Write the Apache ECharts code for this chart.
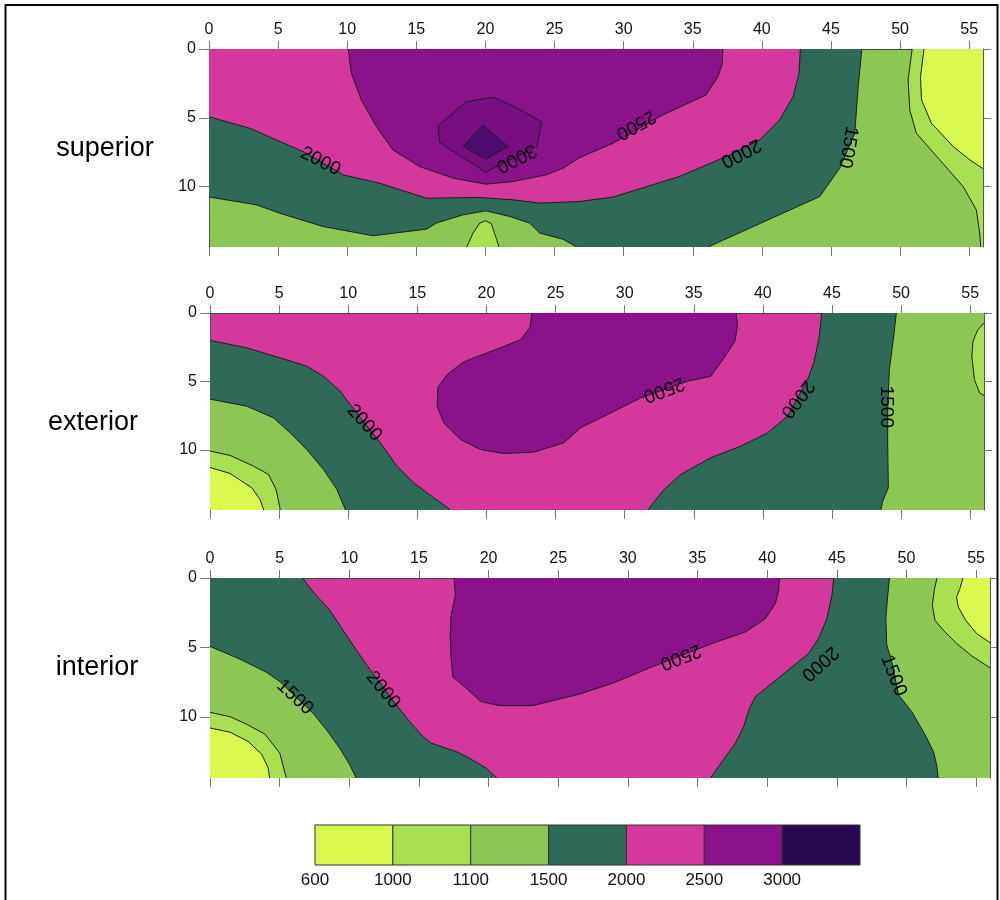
<!DOCTYPE html>
<html><head><meta charset="utf-8">
<script src="https://cdn.jsdelivr.net/npm/echarts@6/dist/echarts.min.js"></script>
<style>html,body{margin:0;padding:0;background:#fff}#c{width:1000px;height:900px}</style>
</head><body><div id="c"></div>
<script>
// ---------- axes / classes ----------
const xTickValues = [0,5,10,15,20,25,30,35,40,45,50,55];
const yTickValues = [0,5,10];
const X_MAX = 56, Y_MAX = 14.4;
const levelLabels = ['600','1000','1100','1500','2000','2500','3000'];
const panelNames = ['superior','exterior','interior'];
const C600='#d8fa4e', C1000='#a8e052', C1100='#8cc653', C1500='#2e6a57', C2000='#d5389d', C2500='#8b128b', C3000='#2a0851';
const classColors = [C600,C1000,C1100,C1500,C2000,C2500,C3000];
const CHEX = '#790e80', CDIA = '#4d0b6f';

// ---------- superior: contour regions [x, depth] ----------
const sup_ge1500 = [[0,0],[47.28,0],[46.97,2.74],[46.72,6.13],[45.63,8.67],[44.19,10.73],[35.0,14.4],[27.5,14.4],[25.6,13.83],[23.93,13.39],[23.2,12.66],[21.76,12.18],[20.02,11.77],[18.38,12.06],[16.45,12.66],[15.73,13.10],[11.87,13.58],[8.25,12.91],[5.11,11.94],[3.42,11.33],[0,10.68]];
const sup_ge2000 = [[0,0],[42.81,0],[42.69,1.77],[42.26,3.46],[41.29,5.16],[39.85,6.61],[37.43,7.82],[34.05,9.27],[29.23,10.77],[26.82,11.09],[23.93,11.21],[22.0,10.97],[19.59,10.80],[15.73,10.85],[12.35,9.76],[9.70,9.15],[6.9,7.5],[4.87,6.61],[2.94,5.76],[0,4.79]];
const sup_ge2500 = [[10.01,0],[10.3,1.77],[11.02,3.70],[12.11,5.64],[13.31,7.34],[15.24,8.55],[17.66,9.39],[20.02,9.83],[22.0,9.64],[24.41,9.15],[25.6,8.67],[26.82,7.9],[29.23,6.85],[32.85,4.79],[35.96,3.34],[36.83,2.0],[37.15,1.04],[37.19,0]];
const sup_hex = [[16.57,5.59],[18.62,3.83],[20.55,3.51],[22.0,4.14],[24.05,5.28],[23.73,7.09],[22.0,7.94],[20.02,8.96],[18.62,8.06],[16.69,6.80]];
const sup_core = [[19.83,5.52],[21.64,7.09],[20.02,8.01],[18.38,7.09]];
const sup_lt1100a = [[50.94,0],[50.58,2.25],[50.7,4.43],[51.18,6.13],[52.87,8.06],[54.56,10.0],[55.52,11.7],[55.76,13.39],[55.88,14.4],[56,14.4],[56,0]];
const sup_lt1100b = [[18.43,14.4],[19.1,13.39],[19.59,12.66],[20.02,12.49],[20.43,12.71],[21.15,14.4]];
const sup_lt1000 = [[51.79,0],[51.48,2.01],[51.55,3.70],[52.27,5.40],[53.84,7.09],[55.04,8.06],[56,9.03],[56,0]];
const sup_labels = [[8.06,8.18,'2000',-27],[22.24,7.94,'3000',207],[30.9,5.5,'2500',209],[38.5,7.55,'2000',207],[46.24,7.14,'1500',-100]];

// ---------- exterior ----------
const ext_ge2500 = [[23.38,0],[23.14,1.09],[22.46,1.95],[21.01,2.55],[19.08,3.28],[18.24,3.65],[17.15,4.5],[16.47,5.47],[16.43,6.81],[16.91,8.03],[18.12,9.25],[19.57,9.98],[21.26,10.27],[23.43,10.17],[25.6,9.49],[26.81,8.39],[29.23,7.18],[31.16,6.2],[34.54,4.99],[36.23,4.62],[37.2,3.28],[37.97,2.07],[38.16,0.97],[38.04,0]];
const ext_lt2000a = [[0,1.90],[2.66,2.55],[5.07,3.28],[7.0,3.89],[8.21,4.62],[9.42,5.72],[10.14,6.69],[12.32,9.49],[13.53,11.19],[14.73,12.41],[16.18,13.5],[18.12,14.4],[0,14.4]];
const ext_lt2000b = [[44.32,0],[44.08,1.7],[43.72,3.53],[43.24,4.87],[41.79,7.54],[40.34,8.76],[38.41,9.73],[36.23,10.58],[34.06,11.8],[32.85,12.9],[31.28,14.4],[56,14.4],[56,0]];
const ext_lt1500a = [[0,6.2],[2.66,6.81],[4.59,7.66],[5.8,8.76],[7.0,9.98],[8.21,11.44],[9.18,12.9],[10.02,14.4],[0,14.4]];
const ext_lt1500b = [[49.71,0],[49.47,1.7],[49.15,4.14],[49.03,7.06],[49.03,9.49],[49.08,12.77],[48.67,13.75],[48.43,14.4],[56,14.4],[56,0]];
const ext_lt1100a = [[0,9.98],[1.45,10.41],[3.14,11.19],[4.23,11.8],[4.78,12.9],[5.19,14.4],[0,14.4]];
const ext_lt1100b = [[56,0.2],[55.56,1.22],[55.2,2.07],[55.12,3.16],[55.31,4.87],[55.68,5.84],[56,6.33]];
const ext_lt1000 = [[0,11.14],[1.45,11.73],[3.02,12.77],[3.62,13.63],[4.06,14.4],[0,14.4]];
const ext_labels = [[11.16,8.03,'2000',-48],[32.85,5.6,'2500',200],[42.5,6.28,'2000',232],[48.96,6.86,'1500',-90]];

// ---------- interior ----------
const int_ge2500 = [[17.48,0],[17.62,1.24],[17.31,2.68],[17.24,4.11],[17.31,5.79],[17.43,7.11],[18.39,7.94],[19.46,8.9],[20.77,9.19],[23.16,9.19],[25.31,8.66],[26.5,8.37],[28.89,7.58],[31.76,6.39],[36.06,4.71],[38.45,3.88],[39.88,2.92],[40.59,1.84],[40.83,0.89],[40.9,0]];
const int_lt2000a = [[0,0],[6.26,0],[7.4,1.0],[8.6,2.32],[9.55,3.76],[10.51,5.19],[11.34,6.39],[13.37,9.14],[14.33,10.33],[15.28,11.41],[15.88,11.89],[17.67,12.49],[18.62,12.97],[19.82,13.68],[21.13,14.4],[0,14.4]];
const int_lt2000b = [[44.84,0],[44.65,1.24],[44.29,2.92],[43.7,4.35],[42.98,5.43],[40.35,7.58],[39.16,8.54],[38.73,9.38],[38.32,10.69],[37.73,11.89],[36.77,13.21],[35.58,14.4],[56,14.4],[56,0]];
const int_lt1500a = [[0,4.71],[2.15,5.84],[4.06,6.79],[5.01,7.46],[7.4,9.74],[8.36,10.93],[9.31,12.25],[10.03,13.44],[10.75,14.4],[0,14.4]];
const int_lt1500b = [[48.83,0],[48.66,1.24],[48.52,2.92],[48.59,4.83],[48.95,6.03],[49.43,8.42],[50.38,9.62],[51.34,11.29],[51.94,12.49],[52.17,13.44],[52.34,14.4],[56,14.4],[56,0]];
const int_lt1100a = [[0,9.57],[1.43,9.98],[2.63,10.53],[3.94,11.24],[5.01,12.61],[5.61,14.4],[0,14.4]];
const int_lt1100b = [[52.29,0],[52.0,0.89],[51.86,1.96],[52.05,3.04],[52.65,3.76],[53.6,4.71],[54.68,5.6],[56,6.8],[56,0]];
const int_lt1000a = [[0,10.69],[1.43,11.1],[2.75,11.77],[3.7,12.68],[4.18,13.68],[4.35,14.4],[0,14.4]];
const int_lt1000b = [[54.2,0],[53.84,0.77],[53.6,1.36],[53.72,2.08],[54.25,3.04],[55.04,4.0],[56,5.0],[56,0]];
const int_labels = [[12.42,8.06,'2000',-50],[6.09,8.59,'1500',-43],[33.79,5.67,'2500',201],[43.79,6.15,'2000',222],[49.07,7.03,'1500',-69]];

// ---------- build ----------
const FONT = "'Liberation Sans', Arial, sans-serif";
const panels = [
  {grid:{left:209,top:49,width:774,height:198}, base:C1100,
   layers:[[sup_ge1500,C1500],[sup_ge2000,C2000],[sup_ge2500,C2500],[sup_hex,CHEX],[sup_core,CDIA],[sup_lt1100a,C1000],[sup_lt1100b,C1000],[sup_lt1000,C600]],
   labels:sup_labels, name:[105,149]},
  {grid:{left:210,top:313,width:774,height:197}, base:C2000,
   layers:[[ext_ge2500,C2500],[ext_lt2000a,C1500],[ext_lt2000b,C1500],[ext_lt1500a,C1100],[ext_lt1500b,C1100],[ext_lt1100a,C1000],[ext_lt1100b,C1000],[ext_lt1000,C600]],
   labels:ext_labels, name:[93,423]},
  {grid:{left:210,top:578,width:780,height:200}, base:C2000,
   layers:[[int_ge2500,C2500],[int_lt2000a,C1500],[int_lt2000b,C1500],[int_lt1500a,C1100],[int_lt1500b,C1100],[int_lt1100a,C1000],[int_lt1100b,C1000],[int_lt1000a,C600],[int_lt1000b,C600]],
   labels:int_labels, name:[97,668]}
];

function expand(p){
  let x=p[0], y=p[1]; const e=0.5;
  if (x<=0) x=-e; else if (x>=X_MAX) x=X_MAX+e;
  if (y<=0) y=-e; else if (y>=Y_MAX) y=Y_MAX+e;
  return [x,y];
}

const grids=[], xAxes=[], yAxes=[], series=[], graphics=[];
panels.forEach((P,p)=>{
  grids.push(Object.assign({show:true, backgroundColor:P.base, borderWidth:0}, P.grid));
  xAxes.push({gridIndex:p, type:'value', position:'top', min:0, max:X_MAX, interval:5,
    axisLine:{show:true, onZero:false, lineStyle:{color:'#444', width:1}},
    axisTick:{show:true, inside:false, length:8, customValues:xTickValues, lineStyle:{color:'#777'}},
    axisLabel:{show:true, margin:11, fontSize:16, fontFamily:FONT, color:'#111', customValues:xTickValues},
    splitLine:{show:false}});
  xAxes.push({gridIndex:p, type:'value', position:'bottom', min:0, max:X_MAX, interval:5,
    axisLine:{show:false, onZero:false},
    axisTick:{show:true, inside:false, length:9, customValues:xTickValues, lineStyle:{color:'#777'}},
    axisLabel:{show:false}, splitLine:{show:false}});
  yAxes.push({gridIndex:p, type:'value', position:'left', inverse:true, min:0, max:Y_MAX, interval:5,
    axisLine:{show:true, onZero:false, lineStyle:{color:'#555', width:1}},
    axisTick:{show:true, inside:false, length:10, customValues:yTickValues, lineStyle:{color:'#777'}},
    axisLabel:{show:true, margin:13, fontSize:16, fontFamily:FONT, color:'#111', customValues:yTickValues},
    splitLine:{show:false}});
  yAxes.push({gridIndex:p, type:'value', position:'right', inverse:true, min:0, max:Y_MAX, interval:5,
    axisLine:{show:true, onZero:false, lineStyle:{color:'#555', width:1}},
    axisTick:{show:true, inside:false, length:8, customValues:yTickValues, lineStyle:{color:'#777'}},
    axisLabel:{show:false}, splitLine:{show:false}});
  P.layers.forEach(([pts,color])=>{
    series.push({type:'custom', coordinateSystem:'cartesian2d', xAxisIndex:2*p, yAxisIndex:2*p,
      clip:true, silent:true, animation:false, data:pts, encode:{x:0,y:1},
      renderItem:(params, api)=>{
        if (params.dataIndex!==0) return null;
        return {type:'polygon', shape:{points:pts.map(pt=>api.coord(expand(pt)))},
          style:{fill:color, stroke:'#1c1c1c', lineWidth:1}};
      }});
  });
  const labs = P.labels;
  series.push({type:'custom', coordinateSystem:'cartesian2d', xAxisIndex:2*p, yAxisIndex:2*p,
    silent:true, animation:false, data:labs.map(l=>[l[0],l[1]]), encode:{x:0,y:1}, z:5,
    renderItem:(params, api)=>{
      const l = labs[params.dataIndex];
      const c = api.coord([l[0],l[1]]);
      return {type:'text', x:c[0], y:c[1], rotation:l[3]*Math.PI/180,
        style:{text:l[2], fontSize:19, fontFamily:FONT, fill:'#000', align:'center', verticalAlign:'middle'}};
    }});
  graphics.push({type:'text', x:P.name[0], y:P.name[1],
    style:{text:panelNames[p], fontSize:27, fontFamily:FONT, fill:'#000', align:'center', verticalAlign:'middle'}});
});

// colour bar
grids.push({left:315, top:825, width:545, height:40, show:false});
const cbIdx = classColors.map((c,i)=>i);
xAxes.push({gridIndex:3, type:'value', min:0, max:7, interval:1, position:'bottom',
  axisLine:{show:false}, axisTick:{show:false}, splitLine:{show:false},
  axisLabel:{show:true, margin:7, fontSize:17, fontFamily:FONT, color:'#111', customValues:cbIdx,
    formatter:v=>levelLabels[v]!==undefined?levelLabels[v]:''}});
yAxes.push({gridIndex:3, type:'value', min:0, max:1, show:false});
series.push({type:'custom', coordinateSystem:'cartesian2d', xAxisIndex:6, yAxisIndex:6, silent:true, animation:false,
  data:cbIdx.map(i=>[i,i+1]), encode:{x:[0,1]},
  renderItem:(params, api)=>{
    const p0 = api.coord([api.value(0),1]);
    const p1 = api.coord([api.value(1),0]);
    return {type:'rect', shape:{x:p0[0], y:p0[1], width:p1[0]-p0[0], height:p1[1]-p0[1]},
      style:{fill:classColors[params.dataIndex], stroke:'#333', lineWidth:1}};
  }});

// frame
graphics.push({type:'polyline', shape:{points:[[5.5,900],[5.5,5],[997.5,5],[997.5,900]]}, style:{stroke:'#000', lineWidth:2, fill:null}, z:10});

const chart = echarts.init(document.getElementById('c'), null, {renderer:'canvas'});
chart.setOption({animation:false, backgroundColor:'#fff', grid:grids, xAxis:xAxes, yAxis:yAxes, series:series, graphic:graphics});
</script></body></html>
